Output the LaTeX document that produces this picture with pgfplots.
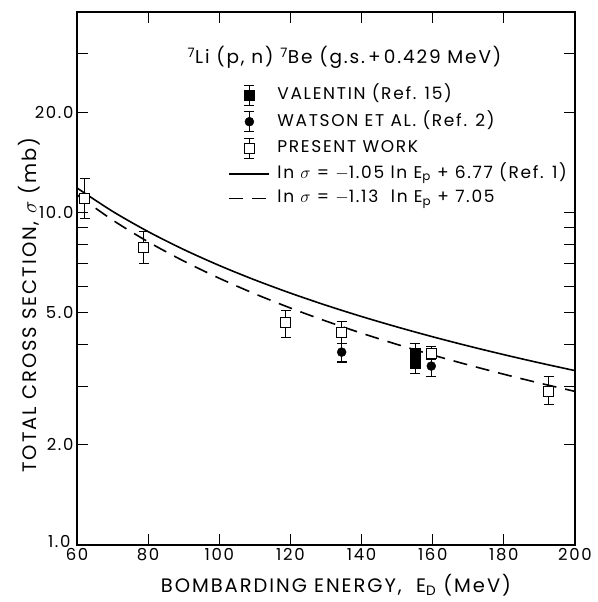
\documentclass[border=0pt]{standalone}
\usepackage{pgfplots}
\pgfplotsset{compat=1.18}
\usepackage{pgfplotstable}
\usepackage{fontspec}
\setmainfont{Poppins}[LetterSpace=10]

% present work
\pgfplotstableread{
x      y     ep    em
62.2   11.0  1.6   1.4
78.7   7.85  0.92  0.82
118.7  4.67  0.41  0.46
134.4  4.36  0.35  0.32
159.6  3.77  0.19  0.15
192.6  2.90  0.30  0.25
}\present
% Watson et al.
\pgfplotstableread{
x      y     ep    em
134.4  3.80  0.24  0.25
159.6  3.45  0.17  0.25
}\watson
% Valentin
\pgfplotstableread{
x      y     ep    em
155.1  3.78  0.26  0.20
155.1  3.52  0.20  0.24
}\valentin
% ln sigma = -1.05 ln E + 6.77
\pgfplotstableread{
x    y
60   11.835
70   10.066
80   8.749
90   7.731
100  6.920
110  6.262
120  5.716
130  5.255
140  4.861
150  4.522
160  4.225
170  3.965
180  3.734
190  3.528
200  3.343
}\refone
% ln sigma = -1.13 ln E + 7.05
\pgfplotstableread{
x    y
60   11.284
70   9.480
80   8.152
90   7.136
100  6.335
110  5.688
120  5.156
130  4.710
140  4.332
150  4.007
160  3.724
170  3.478
180  3.260
190  3.067
200  2.895
}\fitted

\pgfplotsset{
  errleg/.style={legend image code/.code={
    \path[draw=none] (0pt,0pt) -- (46pt,0pt);
    \draw[line width=1.1pt, solid] (20pt,-10pt)--(20pt,10pt) (15pt,10pt)--(25pt,10pt) (15pt,-10pt)--(25pt,-10pt);
    \draw[##1,mark repeat=2,mark phase=2] plot coordinates {(0pt,0pt)(20pt,0pt)(40pt,0pt)};}},
  lineleg/.style={legend image code/.code={\path[draw=none] (0pt,0pt) -- (46pt,0pt); \draw[##1] (0pt,0pt)--(40pt,0pt);}},
  ebar/.style={error bars/.cd, y dir=both, y explicit,
    error bar style={line width=1.1pt}, error mark options={line width=1.1pt, mark size=5pt, rotate=90},
    /pgfplots/.cd},
}

\begin{document}
\begin{tikzpicture}
\begin{axis}[
  scale only axis,
  width=498pt, height=533pt,
  xmin=60, xmax=200,
  ymode=log, ymin=1, ymax=40,
  xtick={60,80,...,200},
  ytick={1,2,5,10,20},
  yticklabels={\raisebox{7pt}{1.0\kern3pt},2.0,5.0,10.0,20.0},
  minor ytick={3,4,6,7,8,9,30},
  tick pos=both,
  major tick length=11pt, minor tick length=11pt,
  tick style={black, line width=1.2pt},
  axis line style={line width=1.6pt},
  tick label style={font=\fontsize{16.5}{18}\selectfont},
  /pgf/number format/assume math mode=true,
  xlabel={BOMBARDING ENERGY,\ \ E\textsubscript{D} (MeV)},
  ylabel={TOTAL CROSS SECTION, $\sigma$ (mb)},
  label style={font=\fontsize{19.5}{22}\selectfont},
  xlabel style={at={(rel axis cs:0.52,-0.075)}, anchor=center},
  ylabel style={at={(rel axis cs:-0.096,0.45)}, anchor=center},
  legend style={at={(rel axis cs:0.298,0.868)}, anchor=north west, draw=none, fill=none,
    font=\fontsize{17}{20}\selectfont, row sep=5.5pt,
    nodes={text height=12pt, text depth=3pt}},
  legend cell align=left,
  clip=false,
]
\addplot[only marks, mark=square*, mark size=5pt, black, ebar, errleg]
  table[x=x, y=y, y error plus=ep, y error minus=em] {\valentin};
\addlegendentry{VALENTIN (Ref. 15)}
\addplot[only marks, mark=*, mark size=4.5pt, black, ebar, errleg]
  table[x=x, y=y, y error plus=ep, y error minus=em] {\watson};
\addlegendentry{WATSON ET AL. (Ref. 2)}
\addplot[only marks, mark=square*, mark size=5pt, draw=black, fill=white, line width=1.1pt, ebar, errleg]
  table[x=x, y=y, y error plus=ep, y error minus=em] {\present};
\addlegendentry{PRESENT WORK}
\addplot[black, line width=1.6pt, smooth, lineleg] table[x=x, y=y] {\refone};
\addlegendentry{ln $\sigma$ = $-$1.05 ln E\textsubscript{p} + 6.77 (Ref. 1)}
\addplot[black, line width=1.6pt, smooth, dash pattern=on 14pt off 9pt, lineleg] table[x=x, y=y] {\fitted};
\addlegendentry{ln $\sigma$ = $-$1.13 \ ln E\textsubscript{p} + 7.05}
\node[anchor=west, font=\fontsize{18.5}{22}\selectfont] at (rel axis cs:0.215,0.914)
  {\textsuperscript{7}Li (p, n) \textsuperscript{7}Be (g.s.\,+\,0.429 MeV)};
\path (rel axis cs:0,0) ++(-77pt,-57pt);
\path (rel axis cs:1,1) ++(22pt,12pt);
\end{axis}
\end{tikzpicture}
\end{document}
